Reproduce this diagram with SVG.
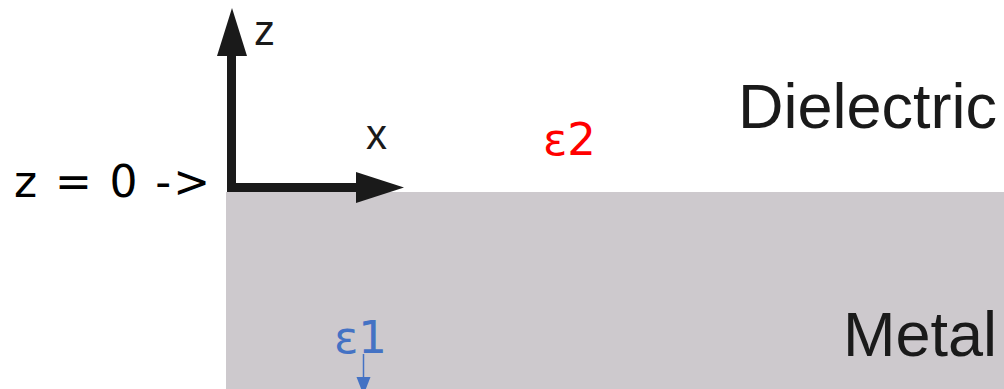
<svg xmlns="http://www.w3.org/2000/svg" width="1004" height="389" viewBox="0 0 1004 389">
<style>
.lbl{font-family:"Liberation Sans",Arial,sans-serif;fill:#1a1a1a}
.big{font-size:63px}
.ax{font-size:42px}
.eps{font-family:"DejaVu Sans",sans-serif;font-size:45px}
.axis{fill:none;stroke:#1a1a1a;stroke-width:9;stroke-linejoin:miter}
.head{fill:#1a1a1a}
</style>
<rect id="metal-region" x="226" y="192" width="778" height="197" fill="#cdc9cd"/>
<g id="connectors">
<path class="axis" d="M231.5,54 V187.5 H360"/>
<polygon class="head" points="232,8 217,56 247,56"/>
<polygon class="head" points="404,187.5 356,172 356,203"/>
<line x1="363.5" y1="354" x2="363.5" y2="380" stroke="#4472c4" stroke-width="1.5"/>
<polygon points="356.5,377 370.5,377 363.5,395" fill="#4472c4"/>
</g>
<g id="z-axis-label"><text class="lbl ax" x="254" y="45">z</text></g>
<g id="x-axis-label"><text class="lbl ax" x="366" y="149">x</text></g>
<g id="origin-label"><text x="14" y="197" font-family="DejaVu Sans, sans-serif" font-size="44" fill="#000" textLength="196" lengthAdjust="spacing">z = 0 -&gt;</text></g>
<g id="dielectric"><text class="lbl big" x="997" y="128" text-anchor="end">Dielectric</text></g>
<g id="metal"><text class="lbl big" x="997" y="356" text-anchor="end">Metal</text></g>
<g id="eps2"><text class="eps" x="543" y="155" fill="#ff0000">ε2</text></g>
<g id="eps1"><text class="eps" x="334" y="353" fill="#4472c4">ε1</text></g>
</svg>
